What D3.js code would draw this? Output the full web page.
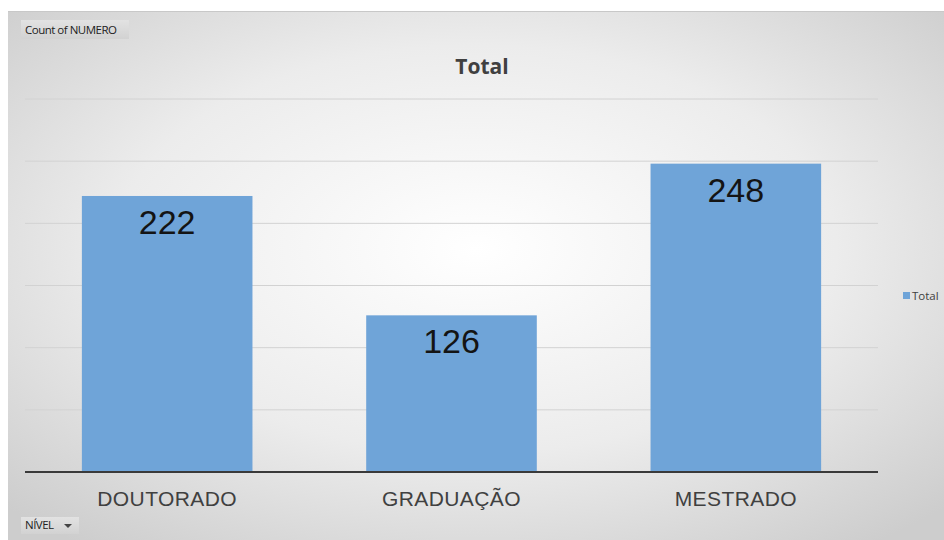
<!DOCTYPE html>
<html>
<head>
<meta charset="utf-8">
<script src="https://cdn.jsdelivr.net/npm/d3@7"></script>
<style>
  body { margin: 0; background: #fff; }
  svg { display: block; }
</style>
</head>
<body>
<div id="chart"></div>
<script>
const width = 944, height = 540;

// chart data
const categories = ["DOUTORADO", "GRADUAÇÃO", "MESTRADO"];
const totals = [222, 126, 248];
const yTicks = [0, 50, 100, 150, 200, 250, 300];
const seriesName = "Total";

const margin = {left: 25, right: 66, top: 99, bottom: 68};

const svg = d3.select("#chart").append("svg")
  .attr("width", width)
  .attr("height", height);

// background gradient like the excel chart area
const defs = svg.append("defs");
const grad = defs.append("radialGradient")
  .attr("id", "bg")
  .attr("cx", "50%").attr("cy", "45%").attr("r", "70%");
grad.append("stop").attr("offset", "0%").attr("stop-color", "#ffffff");
grad.append("stop").attr("offset", "55%").attr("stop-color", "#ececec");
grad.append("stop").attr("offset", "100%").attr("stop-color", "#cdcdcd");

const btnGrad = defs.append("linearGradient")
  .attr("id", "btn").attr("x1", 0).attr("y1", 0).attr("x2", 0).attr("y2", 1);
btnGrad.append("stop").attr("offset", "0%").attr("stop-color", "#e2e2e2");
btnGrad.append("stop").attr("offset", "100%").attr("stop-color", "#d2d2d2");

svg.append("rect")
  .attr("x", 8).attr("y", 11)
  .attr("width", width - 8).attr("height", height - 11)
  .attr("fill", "url(#bg)");
svg.append("line")
  .attr("x1", 8).attr("x2", width)
  .attr("y1", 11.5).attr("y2", 11.5)
  .attr("stroke", "#c8c8c8");

const x = d3.scaleBand()
  .domain(categories)
  .range([margin.left, width - margin.right])
  .paddingInner(0.4)
  .paddingOuter(0.2);

const y = d3.scaleLinear()
  .domain([0, 300])
  .range([height - margin.bottom, margin.top]);

// gridlines
svg.append("g")
  .selectAll("line")
  .data(yTicks.slice(1))
  .enter()
  .append("line")
    .attr("x1", margin.left)
    .attr("x2", width - margin.right)
    .attr("y1", d => y(d))
    .attr("y2", d => y(d))
    .attr("stroke", "#d2d2d2")
    .attr("stroke-width", 1);

// bars
svg.append("g")
  .selectAll("rect")
  .data(totals)
  .enter()
  .append("rect")
    .attr("x", (d, i) => x(categories[i]))
    .attr("y", d => y(d))
    .attr("width", x.bandwidth())
    .attr("height", d => y(0) - y(d))
    .attr("fill", "#6fa4d8");

// value labels
svg.append("g")
  .selectAll("text")
  .data(totals)
  .enter()
  .append("text")
    .attr("x", (d, i) => x(categories[i]) + x.bandwidth() / 2)
    .attr("y", d => y(d) + 38)
    .attr("text-anchor", "middle")
    .style("font-family", "Arial, 'Liberation Sans', sans-serif")
    .style("font-size", "34px")
    .style("fill", "#141414")
    .text(d => d);

// baseline
svg.append("line")
  .attr("x1", margin.left)
  .attr("x2", width - margin.right)
  .attr("y1", y(0))
  .attr("y2", y(0))
  .attr("stroke", "#3a3a3a")
  .attr("stroke-width", 2);

// category labels
const xAxis = d3.axisBottom(x).tickSize(0).tickPadding(19);
const gx = svg.append("g")
  .attr("transform", `translate(0,${y(0)})`)
  .call(xAxis);
gx.select(".domain").remove();
gx.selectAll("text")
  .style("font-family", "Arial, 'Liberation Sans', sans-serif")
  .style("font-size", "21px")
  .style("letter-spacing", "0.4px")
  .style("fill", "#404040");

// title
svg.append("text")
  .attr("x", 482)
  .attr("y", 74)
  .attr("text-anchor", "middle")
  .style("font-family", "'Open Sans', Calibri, sans-serif")
  .style("font-size", "21px")
  .style("font-weight", "bold")
  .style("fill", "#404040")
  .text("Total");

// legend
const legend = svg.append("g").attr("transform", "translate(903,298)");
legend.append("rect")
  .attr("x", 0).attr("y", -6)
  .attr("width", 7).attr("height", 7)
  .attr("fill", "#6fa4d8");
legend.append("text")
  .attr("x", 9).attr("y", 2)
  .style("font-family", "'Open Sans', sans-serif")
  .style("font-size", "11.5px")
  .style("fill", "#404040")
  .text(seriesName);

// pivot field buttons
function fieldButton(bx, by, bw, bh, label) {
  const g = svg.append("g");
  g.append("rect")
    .attr("x", bx).attr("y", by)
    .attr("width", bw).attr("height", bh)
    .attr("fill", "url(#btn)");
  g.append("text")
    .attr("x", bx + 4).attr("y", by + bh - 5)
    .style("font-family", "'Open Sans', sans-serif")
    .style("font-size", "11.5px")
    .style("letter-spacing", "-0.5px")
    .style("fill", "#222")
    .text(label);
  return g;
}
fieldButton(21, 20, 108, 19, "Count of NUMERO");
const nivel = fieldButton(21, 517, 58, 17, "NÍVEL");
nivel.append("path")
  .attr("d", "M64,524 L72,524 L68,528 Z")
  .attr("fill", "#444");
</script>
</body>
</html>
